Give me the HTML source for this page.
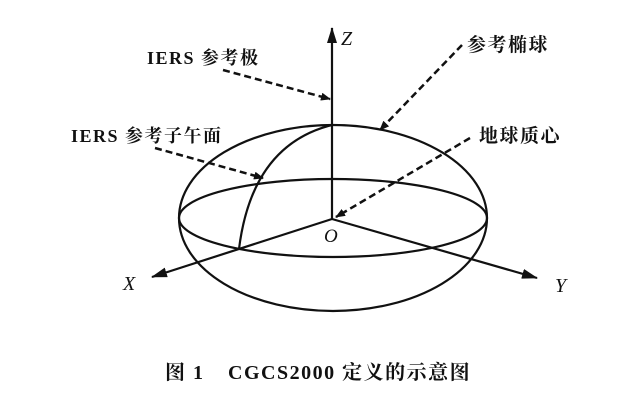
<!DOCTYPE html>
<html><head><meta charset="utf-8"><style>
html,body{margin:0;padding:0;background:#fff;width:644px;height:402px;overflow:hidden}
</style></head><body>
<svg width="644" height="402" viewBox="0 0 644 402" xmlns="http://www.w3.org/2000/svg">
<defs>
<marker id="a" markerWidth="10" markerHeight="8" refX="9" refY="4" orient="auto" markerUnits="userSpaceOnUse">
<path d="M0,0 L10,4 L0,8 Z" fill="#111"/></marker>
<marker id="b" markerWidth="16" markerHeight="10" refX="15" refY="5" orient="auto" markerUnits="userSpaceOnUse">
<path d="M0,0 L16,5 L0,10 Z" fill="#111"/></marker>
</defs>
<g fill="none" stroke="#111" stroke-width="2.2">
<ellipse cx="333" cy="218" rx="154" ry="93"/>
<ellipse cx="333" cy="218" rx="154" ry="39"/>
<path d="M332,125 Q252,145 239,249"/>
<line x1="332" y1="219" x2="332" y2="28" marker-end="url(#b)"/>
<line x1="332" y1="219" x2="152" y2="277" marker-end="url(#b)"/>
<line x1="332" y1="219" x2="537" y2="278" marker-end="url(#b)"/>
</g>
<g fill="none" stroke="#111" stroke-width="2.5" stroke-dasharray="7,4">
<line x1="223" y1="70" x2="330" y2="99" marker-end="url(#a)"/>
<line x1="462" y1="45" x2="380" y2="130" marker-end="url(#a)"/>
<line x1="470" y1="138" x2="336" y2="217" marker-end="url(#a)"/>
<line x1="155" y1="148" x2="263" y2="178" marker-end="url(#a)"/>
</g>
<g font-family="Liberation Serif, Noto Serif CJK SC, serif" fill="#111" font-weight="bold">
<text x="147" y="64" font-size="18" letter-spacing="1.5">IERS 参考极</text>
<text x="71" y="142" font-size="18" letter-spacing="1.5">IERS 参考子午面</text>
<text x="467" y="51" font-size="19" letter-spacing="1.5">参考椭球</text>
<text x="479" y="142" font-size="19" letter-spacing="1.5">地球质心</text>
</g>
<g font-family="Liberation Serif, serif" fill="#111" font-style="italic">
<text x="341" y="45" font-size="20">Z</text>
<text x="123" y="290" font-size="20">X</text>
<text x="555" y="292" font-size="20">Y</text>
<text x="324" y="242" font-size="19">O</text>
</g>
<text x="165" y="379" font-size="20" font-weight="bold" letter-spacing="1.5" font-family="Liberation Serif, Noto Serif CJK SC, serif" fill="#111">图 1<tspan x="228">CGCS2000 定义的示意图</tspan></text>
</svg>
</body></html>
